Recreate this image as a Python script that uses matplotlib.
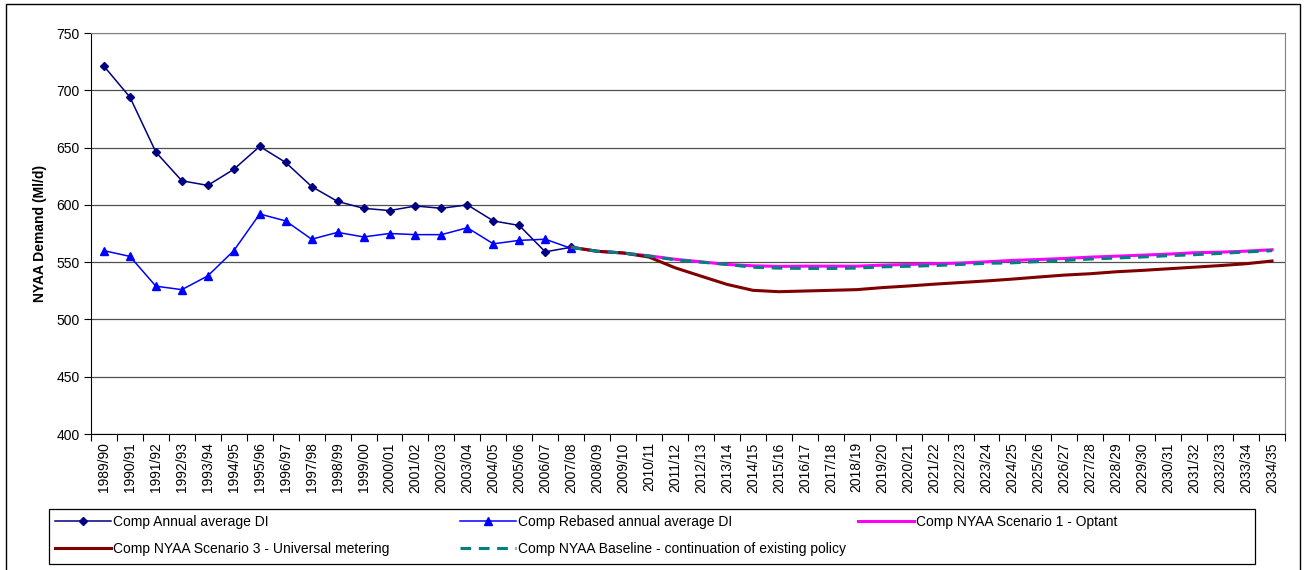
import numpy as np
import matplotlib
matplotlib.use("Agg")
import matplotlib.pyplot as plt
from matplotlib.patches import Rectangle

plt.rcParams['font.family'] = ['Liberation Sans', 'DejaVu Sans']

# Años (1989/90 ... 2034/35)
years = [f"{y}/{(y + 1) % 100:02d}" for y in range(1989, 2035)]

# Serie histórica (1989/90 - 2007/08)
annual_avg = [721, 694, 646, 621, 617, 631, 651, 637, 616, 603,
              597, 595, 599, 597, 600, 586, 582, 559, 563]
rebased_avg = [560, 555, 529, 526, 538, 560, 592, 586, 570, 576,
               572, 575, 574, 574, 580, 566, 569, 570, 562]

# Escenarios (2007/08 - 2034/35)
scen1_optant = [563, 559.5, 558, 555.5, 552.5, 550.3, 548, 546.8, 546.3, 546.5,
                546.5, 546.5, 547.4, 548, 548.6, 549.2, 550.3, 551.5, 552.3, 553.2,
                554.4, 555.2, 556.1, 557, 558.2, 558.7, 559.6, 560.8]
scen3_metering = [563, 559.5, 558, 554.4, 545.1, 537.8, 530.6, 525.4, 524.2, 524.8,
                  525.4, 526, 527.8, 529.2, 530.8, 532.2, 533.6, 535.2, 537, 538.7,
                  539.9, 541.6, 542.8, 544.2, 545.6, 547, 548.6, 551]
baseline = [563, 559.5, 558, 555.3, 552, 550, 548, 545.5, 544.8, 544.5,
            544.5, 544.8, 545.9, 546.4, 547, 548, 549, 549.4, 550.5, 551.5,
            552.7, 553.6, 554.5, 555.6, 556.5, 557.6, 558.9, 560]

x = np.arange(len(years))
x_hist = x[:len(annual_avg)]
x_scen = x[len(annual_avg) - 1:]

W, H = 1304, 570
fig = plt.figure(figsize=(W / 100, H / 100), dpi=100)
ax = fig.add_axes([91 / W, 1 - 434 / H, (1285 - 91) / W, (434 - 33) / H])

l1, = ax.plot(x_hist, annual_avg, color='#000080', lw=1.1, marker='D', ms=4.2,
              label='Comp Annual average DI')
l2, = ax.plot(x_hist, rebased_avg, color='#0000FF', lw=1.1, marker='^', ms=6,
              label='Comp Rebased annual average DI')
l3, = ax.plot(x_scen, scen1_optant, color='#FF00FF', lw=2.2,
              label='Comp NYAA Scenario 1 - Optant')
l4, = ax.plot(x_scen, scen3_metering, color='#800000', lw=2.2,
              label='Comp NYAA Scenario 3 - Universal metering')
l5, = ax.plot(x_scen, baseline, color='#008080', lw=2.2, ls=(0, (3.5, 2.5)),
              label='Comp NYAA Baseline - continuation of existing policy')

ax.set_ylim(400, 750)
ax.set_yticks(np.arange(400, 751, 50))
ax.yaxis.grid(True, color='#505050', lw=0.9)
ax.set_axisbelow(True)
ax.set_xlim(-0.5, len(years) - 0.5)

# marcas entre categorías, etiquetas centradas
ax.set_xticks(np.arange(len(years) + 1) - 0.5)
ax.set_xticklabels([])
ax.set_xticks(x, minor=True)
ax.set_xticklabels(years, minor=True, rotation=90, fontsize=10)
ax.tick_params(axis='x', which='major', direction='out', length=5, width=0.8)
ax.tick_params(axis='x', which='minor', length=0, pad=6)
ax.tick_params(axis='y', direction='out', length=5, width=0.8, labelsize=10, pad=3)

ax.spines['top'].set_color('#808080')
ax.spines['right'].set_color('#808080')
for s in ['left', 'bottom']:
    ax.spines[s].set_color('black')

ax.set_ylabel('NYAA Demand (Ml/d)', fontsize=10, fontweight='bold')
ax.yaxis.set_label_coords(-0.037, 0.5)

# leyenda: tres columnas de igual ancho
cols = [([l1, l4], 55), ([l2, l5], 460), ([l3], 858)]
for handles, xpos in cols:
    fig.legend(handles=handles, loc='upper left',
               bbox_to_anchor=(xpos / W, 1 - 515 / H),
               frameon=False, fontsize=10, borderpad=0, borderaxespad=0,
               handlelength=4.0, handletextpad=0.2, labelspacing=0.95)
fig.patches.append(Rectangle((49 / W, 1 - 564 / H), (1255 - 49) / W, 55 / H,
                             transform=fig.transFigure, fill=False,
                             ec='black', lw=0.9))

# borde exterior
fig.patches.append(Rectangle((6 / W, -0.02), (1300 - 6) / W, 1 - 4 / H + 0.02,
                             transform=fig.transFigure, fill=False,
                             ec='black', lw=1.0))

fig.savefig('out.png', dpi=100)
